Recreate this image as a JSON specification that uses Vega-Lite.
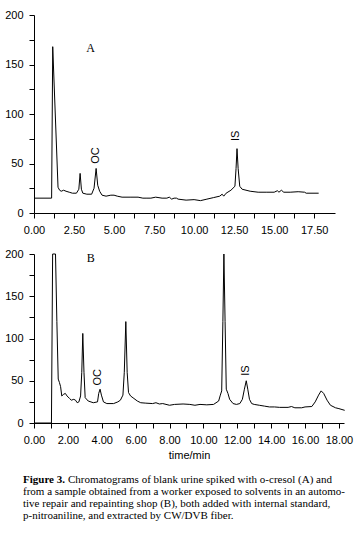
{
  "$schema": "https://vega.github.io/schema/vega-lite/v6.json",
  "padding": {"left": 4, "top": 9, "right": 5, "bottom": 5},
  "background": "white",
  "config": {
    "view": {"stroke": null},
    "concat": {"spacing": 13},
    "axis": {"grid": false, "domainColor": "#000", "tickColor": "#000", "labelColor": "#000", "labelFont": "Liberation Sans", "labelFontSize": 11, "tickSize": 5, "labelPadding": 6, "domainWidth": 1, "tickWidth": 1, "titleFont": "Liberation Sans", "titleFontSize": 11, "titleFontWeight": "normal", "titleColor": "#000", "labelOverlap": false, "labelFlush": false}
  },
  "datasets": {
    "traceA": [
      {"t":0,"v":15},{"t":1.08,"v":15},{"t":1.1,"v":15},{"t":1.17,"v":168},{"t":1.5,"v":26},{"t":1.6,"v":23},{"t":1.7,"v":22},{"t":1.85,"v":23},{"t":2.0,"v":22},{"t":2.2,"v":21},{"t":2.4,"v":20},{"t":2.65,"v":20},{"t":2.8,"v":24},{"t":2.88,"v":40},{"t":2.96,"v":24},{"t":3.05,"v":20},{"t":3.3,"v":19},{"t":3.6,"v":19},{"t":3.75,"v":25},{"t":3.88,"v":45},{"t":3.98,"v":28},{"t":4.1,"v":22},{"t":4.25,"v":18},{"t":4.5,"v":17},{"t":4.8,"v":18},{"t":5.0,"v":18},{"t":5.2,"v":17},{"t":5.5,"v":16},{"t":6.0,"v":16},{"t":6.5,"v":16},{"t":6.8,"v":15},{"t":7.0,"v":15},{"t":7.3,"v":15},{"t":7.6,"v":16},{"t":8.0,"v":15},{"t":8.3,"v":15},{"t":8.45,"v":16},{"t":8.6,"v":14},{"t":8.75,"v":15},{"t":8.9,"v":15},{"t":9.0,"v":14},{"t":9.5,"v":13},{"t":10.0,"v":13.5},{"t":10.4,"v":12.5},{"t":10.8,"v":14},{"t":11.2,"v":15.5},{"t":11.6,"v":17},{"t":11.75,"v":19},{"t":11.85,"v":17},{"t":12.0,"v":20},{"t":12.3,"v":23},{"t":12.55,"v":27},{"t":12.62,"v":45},{"t":12.68,"v":65},{"t":12.75,"v":45},{"t":12.85,"v":27},{"t":13.0,"v":24},{"t":13.5,"v":22},{"t":14.0,"v":21},{"t":14.5,"v":21},{"t":15.0,"v":21},{"t":15.2,"v":22.5},{"t":15.3,"v":21},{"t":15.45,"v":23},{"t":15.6,"v":21},{"t":16.0,"v":21},{"t":16.5,"v":21.5},{"t":16.9,"v":21},{"t":17.0,"v":20},{"t":17.78,"v":20}
    ],
    "traceB": [
      {"t":0,"v":0},{"t":1.03,"v":0},{"t":1.1,"v":200},{"t":1.27,"v":200},{"t":1.35,"v":120},{"t":1.43,"v":52},{"t":1.5,"v":48},{"t":1.57,"v":43},{"t":1.64,"v":32},{"t":1.75,"v":34},{"t":1.85,"v":35},{"t":1.95,"v":32},{"t":2.1,"v":29},{"t":2.2,"v":27},{"t":2.35,"v":28},{"t":2.45,"v":27},{"t":2.55,"v":24},{"t":2.65,"v":25},{"t":2.75,"v":32},{"t":2.82,"v":60},{"t":2.88,"v":106},{"t":2.95,"v":60},{"t":3.02,"v":30},{"t":3.2,"v":26},{"t":3.5,"v":24},{"t":3.75,"v":25},{"t":3.82,"v":35},{"t":3.9,"v":40},{"t":3.98,"v":33},{"t":4.1,"v":25},{"t":4.3,"v":23},{"t":4.7,"v":23},{"t":4.95,"v":25},{"t":5.1,"v":27},{"t":5.25,"v":33},{"t":5.33,"v":60},{"t":5.42,"v":120},{"t":5.5,"v":60},{"t":5.58,"v":36},{"t":5.7,"v":32},{"t":5.9,"v":29},{"t":6.1,"v":26},{"t":6.3,"v":24},{"t":6.6,"v":23.5},{"t":7.0,"v":23},{"t":7.2,"v":24},{"t":7.4,"v":22.5},{"t":7.6,"v":23},{"t":8.0,"v":21},{"t":8.3,"v":22},{"t":8.8,"v":22.5},{"t":9.2,"v":22},{"t":9.5,"v":21},{"t":9.8,"v":22},{"t":10.2,"v":21.5},{"t":10.6,"v":22},{"t":10.9,"v":26},{"t":11.0,"v":33},{"t":11.08,"v":38},{"t":11.15,"v":120},{"t":11.21,"v":200},{"t":11.28,"v":120},{"t":11.35,"v":40},{"t":11.45,"v":35},{"t":11.55,"v":28},{"t":11.75,"v":23},{"t":11.95,"v":22},{"t":12.15,"v":23},{"t":12.3,"v":28},{"t":12.42,"v":40},{"t":12.53,"v":50},{"t":12.62,"v":40},{"t":12.72,"v":28},{"t":12.85,"v":23},{"t":13.0,"v":22},{"t":13.3,"v":21},{"t":13.6,"v":20},{"t":13.9,"v":19},{"t":14.2,"v":19},{"t":14.5,"v":18.5},{"t":15.0,"v":18.5},{"t":15.2,"v":19.5},{"t":15.4,"v":18},{"t":15.8,"v":18},{"t":16.0,"v":19},{"t":16.4,"v":19.5},{"t":16.6,"v":25},{"t":16.8,"v":33},{"t":16.95,"v":38},{"t":17.1,"v":35},{"t":17.3,"v":27},{"t":17.5,"v":21},{"t":17.8,"v":18},{"t":18.0,"v":17},{"t":18.34,"v":15}
    ],
    "letterA": [{"t":3.54,"v":167,"label":"A"}],
    "peaksA": [{"t":3.86,"v":58,"label":"OC"},{"t":12.6,"v":78,"label":"IS"}],
    "letterB": [{"t":3.35,"v":195,"label":"B"}],
    "peaksB": [{"t":3.8,"v":54,"label":"OC"},{"t":12.49,"v":62,"label":"IS"}],
    "capBold": [{"line":1,"text":"Figure 3."}],
    "capFirst": [{"line":1,"text":"Chromatograms of blank urine spiked with o-cresol (A) and"}],
    "capRest": [
      {"line":2,"text":"from a sample obtained from a worker exposed to solvents in an automo-"},
      {"line":3,"text":"tive repair and repainting shop (B), both added with internal standard,"},
      {"line":4,"text":"p-nitroaniline, and extracted by CW/DVB fiber."}
    ]
  },
  "vconcat": [
    {
      "width": 301,
      "height": 198,
      "encoding": {
        "x": {"field": "t", "type": "quantitative", "scale": {"domain": [0, 18.8], "nice": false, "zero": false},
              "axis": {"title": null, "values": [0,1.25,2.5,3.75,5,6.25,7.5,8.75,10,11.25,12.5,13.75,15,16.25,17.5], "labelExpr": "datum.value % 2.5 == 0 ? format(datum.value, '.2f') : ''"}},
        "y": {"field": "v", "type": "quantitative", "scale": {"domain": [0, 200], "nice": false},
              "axis": {"title": null, "values": [0,25,50,75,100,125,150,175,200], "labelExpr": "datum.value % 50 == 0 ? datum.label : ''"}}
      },
      "layer": [
        {"data": {"name": "traceA"}, "mark": {"type": "line", "color": "#000", "strokeWidth": 1}},
        {"data": {"name": "letterA"}, "mark": {"type": "text", "font": "Liberation Serif", "fontSize": 12, "color": "#000"}, "encoding": {"text": {"field": "label"}}},
        {"data": {"name": "peaksA"}, "mark": {"type": "text", "font": "Liberation Sans", "fontSize": 11, "angle": 270, "color": "#000"}, "encoding": {"text": {"field": "label"}}}
      ]
    },
    {
      "width": 310,
      "height": 169,
      "encoding": {
        "x": {"field": "t", "type": "quantitative", "scale": {"domain": [0, 18.3], "nice": false, "zero": false},
              "axis": {"title": "time/min", "titlePadding": 4, "values": [0,1,2,3,4,5,6,7,8,9,10,11,12,13,14,15,16,17,18], "labelExpr": "datum.value % 2 == 0 ? format(datum.value, '.2f') : ''"}},
        "y": {"field": "v", "type": "quantitative", "scale": {"domain": [0, 200], "nice": false},
              "axis": {"title": null, "values": [0,25,50,75,100,125,150,175,200], "labelExpr": "datum.value % 50 == 0 ? datum.label : ''"}}
      },
      "layer": [
        {"data": {"name": "traceB"}, "mark": {"type": "line", "color": "#000", "strokeWidth": 1}},
        {"data": {"name": "letterB"}, "mark": {"type": "text", "font": "Liberation Serif", "fontSize": 12, "color": "#000"}, "encoding": {"text": {"field": "label"}}},
        {"data": {"name": "peaksB"}, "mark": {"type": "text", "font": "Liberation Sans", "fontSize": 11, "angle": 270, "color": "#000"}, "encoding": {"text": {"field": "label"}}}
      ]
    },
    {
      "width": 321,
      "height": 38,
      "encoding": {
        "y": {"field": "line", "type": "ordinal", "axis": null, "scale": {"type": "point", "padding": 0.05, "domain": [1,2,3,4]}},
        "x": {"value": -11}
      },
      "layer": [
        {"data": {"name": "capBold"}, "mark": {"type": "text", "align": "left", "font": "Liberation Serif", "fontSize": 11, "fontWeight": "bold", "color": "#000"}, "encoding": {"text": {"field": "text"}}},
        {"data": {"name": "capFirst"}, "mark": {"type": "text", "align": "left", "font": "Liberation Serif", "fontSize": 11, "dx": 45, "color": "#000"}, "encoding": {"text": {"field": "text"}}},
        {"data": {"name": "capRest"}, "mark": {"type": "text", "align": "left", "font": "Liberation Serif", "fontSize": 11, "color": "#000"}, "encoding": {"text": {"field": "text"}}}
      ]
    }
  ]
}
